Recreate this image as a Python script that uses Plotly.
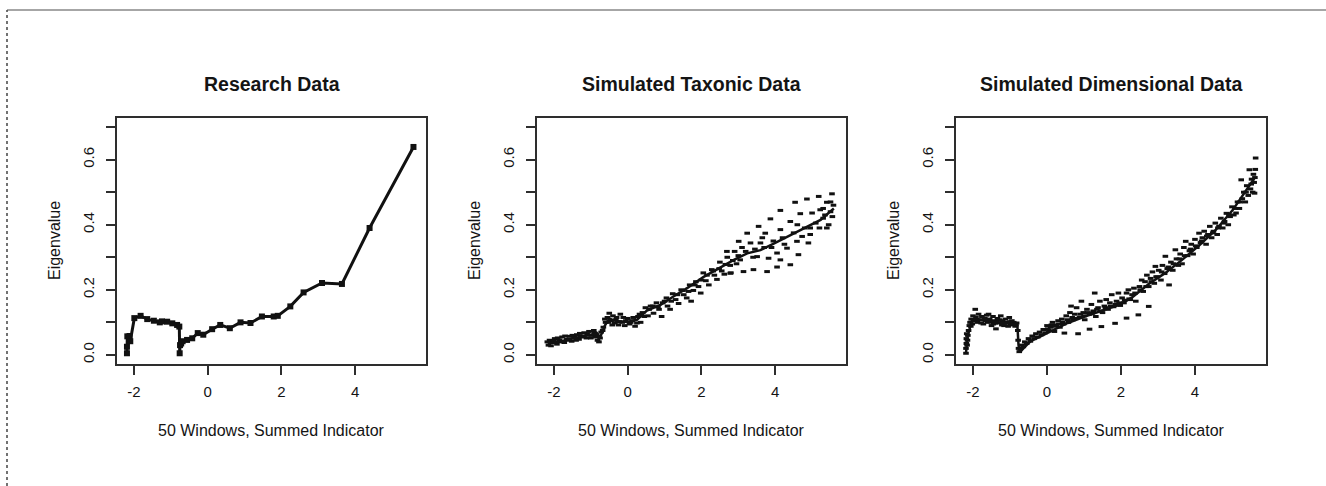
import plotly.graph_objects as go

# ---------------- data ----------------
panel_titles = ["Research Data", "Simulated Taxonic Data", "Simulated Dimensional Data"]
x_title = "50 Windows, Summed Indicator"
y_title = "Eigenvalue"
x_ticks = [-2, 0, 2, 4]
x_ticklabels = ["-2", "0", "2", "4"]
y_ticks = [0.0, 0.1, 0.2, 0.3, 0.4, 0.5, 0.6, 0.7]
y_ticklabels = ["0.0", "", "0.2", "", "0.4", "", "0.6", ""]

# Research data curve
res_x = [-2.19, -2.19, -2.18, -2.12, -2.10, -1.99, -1.82, -1.64, -1.46, -1.30, -1.24, -1.10, -0.96,
         -0.83, -0.77, -0.76, -0.75, -0.72, -0.68, -0.56, -0.42, -0.27, -0.12, 0.12, 0.34, 0.60,
         0.89, 1.16, 1.47, 1.79, 1.90, 2.24, 2.60, 3.10, 3.64, 4.39, 5.58]
res_y = [0.005, 0.025, 0.057, 0.058, 0.042, 0.113, 0.120, 0.110, 0.105, 0.100, 0.103, 0.102, 0.097,
         0.092, 0.087, 0.005, 0.030, 0.035, 0.042, 0.046, 0.051, 0.067, 0.062, 0.079, 0.092, 0.082,
         0.100, 0.098, 0.118, 0.118, 0.120, 0.149, 0.192, 0.221, 0.218, 0.390, 0.639]

# Simulated taxonic: mean curve
tax_mean_x = [-2.17, -1.83, -1.47, -1.10, -0.83, -0.76, -0.62, -0.50, -0.30, 0.00, 0.25, 0.52, 0.89,
              1.25, 1.61, 2.06, 2.52, 2.88, 3.24, 3.60, 3.96, 4.42, 4.87, 5.23, 5.59]
tax_mean_y = [0.036, 0.041, 0.051, 0.060, 0.066, 0.050, 0.090, 0.112, 0.103, 0.101, 0.108, 0.136, 0.154,
              0.180, 0.205, 0.240, 0.270, 0.292, 0.312, 0.322, 0.342, 0.368, 0.395, 0.415, 0.450]
# Simulated taxonic: replicate points
tax_pts_x = [-2.15, -2.12, -2.05, -1.98, -1.92, -1.85, -1.78, -1.72, -1.65, -1.58, -1.52, -1.45, -1.38,
             -1.32, -1.25, -1.18, -1.12, -1.05, -0.98, -0.92, -0.88, -0.82, -0.78, -0.72, -0.66, -0.60,
             -0.55, -0.50, -0.45, -0.40, -0.35, -0.30, -0.25, -0.20, -0.15, -0.08, 0.00, 0.05, 0.12,
             0.20, 0.28, 0.35,
             0.40, 0.48, 0.55, 0.62, 0.70, 0.78, 0.85, 0.92, 1.00, 1.08, 1.15, 1.22, 1.30, 1.38, 1.45,
             1.52, 1.60, 1.68, 1.72, 1.78, 1.85, 1.92, 1.98, 2.05, 2.12, 2.20, 2.28, 2.35, 2.42, 2.50,
             2.55, 2.62, 2.70, 2.78, 2.80, 2.90, 2.95,
             5.54, 5.18, 4.86, 4.54, 5.40, 4.14, 5.22, 3.87, 4.68, 5.00, 4.41, 3.55, 4.14, 3.73, 4.95,
             5.40, 4.73, 3.24, 3.01, 2.69, 3.33, 3.60, 4.59, 4.90, 4.32, 4.05, 4.63, 3.51, 3.82, 3.05,
             4.14, 4.41, 3.41, 3.78, 4.05, 3.14, 2.78,
             3.20, 3.45, 3.70, 3.95, 4.20, 4.50, 4.80, 5.10, 5.30, 5.50, 5.58, 5.55, 5.35, 5.45, 5.20,
             -2.18, -2.08, -2.00, -1.90, -1.80, -1.70, -1.60, -1.50, -1.40, -1.30, -1.20, -1.10, -1.00,
             -0.90, -0.85, -0.80, -0.75, -0.68, -0.62, -0.52, -0.42, -0.32, -0.22, -0.12, -0.05, 0.08,
             0.15, 0.25, 0.32, 0.45, 0.58, 0.68, 0.82, 0.95, 1.05, 1.18, 1.35, 1.50, 1.65, 1.82, 2.00,
             2.15, 2.32, 2.48, 2.65, 2.85, 3.00, 3.10, 3.40, 3.65, 3.90, 4.25, 4.60, 4.95, 5.30, 5.50]
tax_pts_y = [0.030, 0.045, 0.038, 0.050, 0.033, 0.046, 0.055, 0.038, 0.048, 0.057, 0.042, 0.055, 0.062,
             0.048, 0.058, 0.068, 0.052, 0.072, 0.060, 0.075, 0.055, 0.045, 0.040, 0.070, 0.085, 0.100,
             0.115, 0.128, 0.105, 0.120, 0.098, 0.115, 0.092, 0.125, 0.100, 0.090, 0.112, 0.095, 0.105,
             0.088, 0.118, 0.100,
             0.130, 0.145, 0.120, 0.150, 0.128, 0.160, 0.140, 0.118, 0.165, 0.150, 0.140, 0.188, 0.170,
             0.158, 0.200, 0.185, 0.175, 0.215, 0.165, 0.198, 0.225, 0.210, 0.190, 0.252, 0.228, 0.215,
             0.262, 0.245, 0.232, 0.285, 0.258, 0.248, 0.300, 0.275, 0.252, 0.318, 0.280,
             0.495, 0.487, 0.479, 0.469, 0.469, 0.444, 0.446, 0.418, 0.434, 0.436, 0.410, 0.395, 0.385,
             0.374, 0.390, 0.390, 0.364, 0.374, 0.349, 0.318, 0.344, 0.344, 0.349, 0.344, 0.328, 0.313,
             0.308, 0.302, 0.297, 0.292, 0.292, 0.277, 0.262, 0.256, 0.270, 0.256, 0.251,
             0.318, 0.325, 0.330, 0.350, 0.360, 0.375, 0.390, 0.405, 0.420, 0.440, 0.460, 0.425, 0.430,
             0.400, 0.390,
             0.040, 0.028, 0.042, 0.052, 0.040, 0.058, 0.045, 0.060, 0.045, 0.066, 0.055, 0.064, 0.052,
             0.068, 0.062, 0.058, 0.052, 0.075, 0.110, 0.100, 0.092, 0.108, 0.102, 0.115, 0.105, 0.100,
             0.115, 0.098, 0.125, 0.118, 0.140, 0.150, 0.148, 0.160, 0.175, 0.165, 0.185, 0.198, 0.195,
             0.215, 0.230, 0.245, 0.258, 0.265, 0.278, 0.290, 0.305, 0.330, 0.300, 0.360, 0.330, 0.340,
             0.400, 0.370, 0.450, 0.470]

# Simulated dimensional: mean curve
dim_mean_x = [-2.19, -2.17, -2.15, -2.08, -2.03, -1.94, -1.71, -1.44, -1.16, -0.89, -0.80, -0.77, -0.73,
              -0.62, -0.44, -0.16, 0.20, 0.56, 1.02, 1.47, 1.93, 2.29, 2.75, 3.20, 3.65, 4.11, 4.56,
              5.02, 5.47, 5.62]
dim_mean_y = [0.005, 0.030, 0.056, 0.085, 0.100, 0.110, 0.107, 0.102, 0.098, 0.094, 0.090, 0.030, 0.008,
              0.022, 0.042, 0.058, 0.078, 0.098, 0.118, 0.136, 0.153, 0.176, 0.218, 0.252, 0.292, 0.336,
              0.384, 0.445, 0.520, 0.545]
# Simulated dimensional: replicate points
dim_pts_x = [-2.19, -2.19, -2.18, -2.18, -2.17, -2.16, -2.15, -2.14, -2.12, -2.10, -2.08, -2.05, -2.02,
             -2.00, -1.97, -1.94, -1.92, -1.88, -1.85, -1.80, -1.76, -1.72, -1.68, -1.63, -1.60, -1.55,
             -1.50, -1.46, -1.42, -1.38, -1.34, -1.30, -1.25, -1.20, -1.16, -1.12, -1.07, -1.02, -0.98,
             -0.95, -0.90, -0.86, -0.82, -0.79, -0.78, -0.77, -0.75, -0.72, -0.68, -0.64, -0.60, -0.55,
             -0.50, -0.45, -0.40, -0.35, -0.30, -0.25, -0.20, -0.15, -0.10, -0.05, 0.00, 0.05, 0.10,
             0.15, 0.20, 0.25, 0.30, 0.35, 0.40, 0.45, 0.47, 0.52, 0.58, 0.62, 0.65, 0.70, 0.75, 0.80,
             0.84, 0.88, 0.93, 0.98, 1.02, 1.08, 1.15, 1.15, 1.20, 1.25, 1.29, 1.32, 1.38, 1.43, 1.47,
             1.50, 1.55, 1.60, 1.65, 1.70, 1.75, 1.80, 1.84, 1.88, 1.93, 1.98, 2.03, 2.08, 2.15, 2.15,
             2.20, 2.25, 2.30, 2.35, 2.40, 2.47, 2.50, 2.56, 2.60, 2.65, 2.70, 2.75, 2.75, 2.80, 2.85,
             2.90, 2.93, 2.98, 3.02, 3.08, 3.12, 3.18, 3.20, 3.25, 3.30, 3.35, 3.40, 3.47, 3.50, 3.55,
             3.60, 3.65, 3.70, 3.75, 3.80, 3.85, 3.90, 3.95, 4.00, 4.05, 4.11, 4.15, 4.20, 4.25, 4.30,
             4.35, 4.40, 4.45, 4.50, 4.55, 4.60, 4.65, 4.70, 4.75, 4.80, 4.85, 4.90, 4.95, 5.00, 5.05,
             5.11, 5.15, 5.20, 5.25, 5.28, 5.32, 5.36, 5.40, 5.44, 5.47, 5.50, 5.53, 5.56, 5.58, 5.60,
             5.61, 5.63, 5.64, 5.62,
             0.02, 0.12, 0.22, 0.32, 0.42, 0.55, 0.68, 0.78, 0.90, 1.00, 1.10, 1.22, 1.35, 1.45, 1.58,
             1.72, 1.85, 1.95, 2.10, 2.22, 2.38, 2.52, 2.68, 2.82, 2.95, 3.10, 3.28, 3.42, 3.58, 3.72,
             3.88, 4.02, 4.18, 4.32, 4.48, 4.62, 4.78, 4.92, 5.08, 5.22, 5.38, 5.52,
             -2.06, -1.99, -1.90, -1.78, -1.66, -1.52, -1.40, -1.28, -1.14, -1.00, -0.92, -0.84, -1.58,
             -1.45, -1.22, -1.05]
dim_pts_y = [0.005, 0.020, 0.035, 0.050, 0.065, 0.030, 0.045, 0.060, 0.075, 0.090, 0.100, 0.110, 0.095,
             0.120, 0.105, 0.140, 0.115, 0.100, 0.125, 0.108, 0.118, 0.095, 0.112, 0.122, 0.100, 0.110,
             0.090, 0.118, 0.105, 0.080, 0.112, 0.098, 0.120, 0.105, 0.090, 0.110, 0.100, 0.115, 0.092,
             0.105, 0.100, 0.088, 0.098, 0.075, 0.045, 0.020, 0.010, 0.020, 0.030, 0.025, 0.040, 0.035,
             0.050, 0.042, 0.058, 0.050, 0.065, 0.055, 0.070, 0.062, 0.078, 0.068, 0.090, 0.075, 0.085,
             0.100, 0.072, 0.092, 0.105, 0.085, 0.110, 0.095, 0.067, 0.120, 0.100, 0.130, 0.150, 0.108,
             0.125, 0.145, 0.065, 0.115, 0.165, 0.130, 0.108, 0.140, 0.079, 0.125, 0.155, 0.135, 0.190,
             0.118, 0.145, 0.165, 0.087, 0.130, 0.150, 0.170, 0.140, 0.160, 0.185, 0.148, 0.097, 0.165,
             0.190, 0.152, 0.175, 0.160, 0.113, 0.190, 0.200, 0.170, 0.185, 0.205, 0.165, 0.123, 0.210,
             0.230, 0.195, 0.225, 0.245, 0.149, 0.210, 0.235, 0.255, 0.220, 0.272, 0.240, 0.260, 0.230,
             0.275, 0.250, 0.303, 0.265, 0.215, 0.285, 0.260, 0.323, 0.295, 0.275, 0.310, 0.280, 0.330,
             0.349, 0.305, 0.320, 0.340, 0.310, 0.355, 0.330, 0.374, 0.345, 0.360, 0.380, 0.340, 0.370,
             0.395, 0.360, 0.380, 0.405, 0.370, 0.395, 0.420, 0.390, 0.410, 0.435, 0.400, 0.425, 0.455,
             0.430, 0.436, 0.470, 0.450, 0.538, 0.480, 0.500, 0.470, 0.520, 0.490, 0.569, 0.510, 0.540,
             0.500, 0.555, 0.530, 0.497, 0.570, 0.605, 0.545,
             0.080, 0.092, 0.088, 0.095, 0.100, 0.108, 0.115, 0.112, 0.125, 0.120, 0.130, 0.128, 0.140,
             0.135, 0.145, 0.150, 0.155, 0.160, 0.168, 0.172, 0.190, 0.200, 0.210, 0.225, 0.240, 0.255,
             0.270, 0.280, 0.295, 0.305, 0.325, 0.335, 0.350, 0.365, 0.375, 0.390, 0.405, 0.430, 0.450,
             0.470, 0.500, 0.525,
             0.088, 0.108, 0.108, 0.098, 0.105, 0.102, 0.098, 0.108, 0.098, 0.102, 0.095, 0.092, 0.125,
             0.095, 0.092, 0.088]

# ---------------- layout constants ----------------
W, H = 1326, 486
FONT = "Liberation Sans, Arial, sans-serif"
INK = "#141414"
BOX = "#2e2e2e"
box_px = [(117, 426), (537, 846), (956, 1266)]
box_top, box_bot = 118, 364
xr = [-2.46, 5.92]
yr = [-0.028, 0.728]
dot_marker = dict(symbol="line-ew", size=4, color="#111", line=dict(width=3, color="#111"))

fig = go.Figure()

# Panel 1
fig.add_trace(go.Scatter(x=res_x, y=res_y, mode="lines+markers",
                         line=dict(color="#111", width=3),
                         marker=dict(symbol="square", size=6, color="#111"),
                         xaxis="x", yaxis="y", showlegend=False, hoverinfo="skip"))
# Panel 2
fig.add_trace(go.Scatter(x=tax_pts_x, y=tax_pts_y, mode="markers", marker=dot_marker,
                         xaxis="x2", yaxis="y2", showlegend=False, hoverinfo="skip"))
fig.add_trace(go.Scatter(x=tax_mean_x, y=tax_mean_y, mode="lines",
                         line=dict(color="#111", width=2.5),
                         xaxis="x2", yaxis="y2", showlegend=False, hoverinfo="skip"))
# Panel 3
fig.add_trace(go.Scatter(x=dim_pts_x, y=dim_pts_y, mode="markers", marker=dot_marker,
                         xaxis="x3", yaxis="y3", showlegend=False, hoverinfo="skip"))
fig.add_trace(go.Scatter(x=dim_mean_x, y=dim_mean_y, mode="lines",
                         line=dict(color="#111", width=2.5),
                         xaxis="x3", yaxis="y3", showlegend=False, hoverinfo="skip"))

ydom = [1 - box_bot / H, 1 - box_top / H]
layout = dict(width=W, height=H, margin=dict(l=0, r=0, t=0, b=0),
              paper_bgcolor="white", plot_bgcolor="white",
              font=dict(family=FONT, color=INK))
annotations = []
for i, (l, r) in enumerate(box_px):
    sfx = "" if i == 0 else str(i + 1)
    layout["xaxis" + sfx] = dict(domain=[l / W, r / W], range=xr, anchor="y" + sfx,
                                 tickvals=x_ticks, ticktext=x_ticklabels,
                                 ticks="outside", ticklen=9, tickwidth=1.5, tickcolor=BOX,
                                 ticklabelstandoff=4,
                                 showline=True, mirror=True, linecolor=BOX, linewidth=1.5,
                                 showgrid=False, zeroline=False,
                                 tickfont=dict(size=15, family=FONT, color=INK))
    layout["yaxis" + sfx] = dict(domain=ydom, range=yr, anchor="x" + sfx,
                                 tickvals=y_ticks, ticktext=y_ticklabels, tickangle=-90,
                                 ticks="outside", ticklen=9, tickwidth=1.5, tickcolor=BOX,
                                 ticklabelstandoff=6,
                                 showline=True, mirror=True, linecolor=BOX, linewidth=1.5,
                                 showgrid=False, zeroline=False,
                                 tickfont=dict(size=15, family=FONT, color=INK))
    cx = (l + r) / 2 / W
    annotations.append(dict(text="<b>" + panel_titles[i] + "</b>", x=cx, y=1 - 84 / H,
                            xref="paper", yref="paper", showarrow=False,
                            xanchor="center", yanchor="middle",
                            font=dict(size=19.5, family=FONT, color=INK)))
    annotations.append(dict(text=x_title, x=cx, y=1 - 430 / H, xref="paper", yref="paper",
                            showarrow=False, xanchor="center", yanchor="middle",
                            font=dict(size=16, family=FONT, color=INK)))
    annotations.append(dict(text=y_title, x=(l - 63) / W, y=1 - (box_top + box_bot) / 2 / H,
                            xref="paper", yref="paper", showarrow=False, textangle=-90,
                            xanchor="center", yanchor="middle",
                            font=dict(size=16, family=FONT, color=INK)))
layout["annotations"] = annotations
layout["shapes"] = [
    dict(type="line", xref="paper", yref="paper", x0=7 / W, x1=1, y0=1 - 10 / H, y1=1 - 10 / H,
         line=dict(color="#888888", width=1.5)),
    dict(type="line", xref="paper", yref="paper", x0=7 / W, x1=7 / W, y0=0, y1=1 - 10 / H,
         line=dict(color="#444444", width=1.5, dash="dot")),
]
fig.update_layout(**layout)
fig.write_html("out.html", config={"displayModeBar": False},
               post_script="document.body.style.margin='0px';")
